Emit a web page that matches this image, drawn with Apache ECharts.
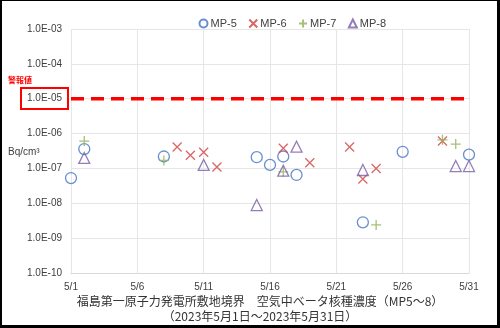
<!DOCTYPE html>
<html><head><meta charset="utf-8">
<script src="https://cdn.jsdelivr.net/npm/echarts@6/dist/echarts.min.js"></script>
<style>html,body{margin:0;padding:0;background:#fff}#c{width:500px;height:328px}</style>
</head><body><div id="c"></div>
<script>
// Day of May (x) and concentration in Bq/cm3 (y)
const mp5Days = [1, 2, 8, 15, 16, 17, 18, 23, 26, 31];
const mp5Vals = [5.3e-8, 3.6e-7, 2.2e-7, 2.1e-7, 1.26e-7, 2.2e-7, 6.5e-8, 2.85e-9, 3.0e-7, 2.5e-7];
const mp6Days = [9, 10, 11, 12, 17, 19, 22, 23, 24, 29];
const mp6Vals = [4.1e-7, 2.4e-7, 2.9e-7, 1.1e-7, 3.8e-7, 1.46e-7, 4.1e-7, 5.0e-8, 1.0e-7, 6.1e-7];
const mp7Days = [2, 8, 17, 24, 29, 30];
const mp7Vals = [6.1e-7, 1.7e-7, 8.0e-8, 2.4e-9, 6.6e-7, 5.0e-7];
const mp8Days = [2, 11, 15, 17, 18, 23, 30, 31];
const mp8Vals = [2.0e-7, 1.26e-7, 8.9e-9, 8.6e-8, 4.2e-7, 9.0e-8, 1.17e-7, 1.17e-7];
const alarmValue = 1.0e-5;
const alarmDays = [1, 31];
const xTickDays = [1, 6, 11, 16, 21, 26, 31];
const yTickLabels = ['1.0E-10','1.0E-09','1.0E-08','1.0E-07','1.0E-06','1.0E-05','1.0E-04','1.0E-03'];
const seriesNames = ['MP-5', 'MP-6', 'MP-7', 'MP-8'];
const titleLine1 = '福島第一原子力発電所敷地境界　空気中ベータ核種濃度（MP5～8）';
const titleLine2 = '（2023年5月1日～2023年5月31日）';
const alarmLabel = '警報値';
const unitLabel = 'Bq/cm³';

const pairs = (d, v) => d.map((x, i) => [x - 1, v[i]]);
const XPATH = 'path://M0,0L10,10M10,0L0,10';
const PPATH = 'path://M5,0L5,10M0,5L10,5';
const fontLatin = 'Liberation Sans, Arial, sans-serif';
const fontJP = '"Noto Sans CJK JP", sans-serif';

const chart = echarts.init(document.getElementById('c'), null, {renderer: 'canvas'});
const mk = (name, data, symbol, color, size) => ({
  name, type: 'scatter', data, symbol, symbolSize: size, z: 3,
  itemStyle: {color: 'none', borderColor: color, borderWidth: 1.3},
  emphasis: {disabled: true}
});
chart.setOption({
  animation: false,
  backgroundColor: '#fff',
  textStyle: {fontFamily: fontLatin},
  grid: {left: 71, right: 31, top: 29, bottom: 55},
  legend: {
    top: 12, left: 192, itemWidth: 8, itemHeight: 8, itemGap: 10,
    textStyle: {fontSize: 11, color: '#404040', fontFamily: fontLatin, padding: [0, 0, 0, -2]},
    data: seriesNames.map(n => ({name: n}))
  },
  xAxis: {
    type: 'value', min: 0, max: 30, interval: 5,
    axisLine: {show: true, lineStyle: {color: '#d9d9d9'}},
    axisTick: {show: false},
    splitLine: {show: true, lineStyle: {color: '#e6e6e6'}},
    axisLabel: {fontSize: 10, color: '#404040', margin: 9,
      formatter: v => xTickDays.includes(v + 1) ? '5/' + (v + 1) : ''}
  },
  yAxis: {
    type: 'log', logBase: 10, min: 1e-10, max: 1e-3,
    axisLine: {show: false},
    axisTick: {show: false},
    splitLine: {show: true, lineStyle: {color: '#e6e6e6'}},
    axisLabel: {fontSize: 10, color: '#404040', margin: 9,
      formatter: v => yTickLabels[Math.round(Math.log10(v)) + 10] || ''}
  },
  series: [
    {
      name: 'alarm', type: 'line', data: alarmDays.map(d => [d - 1, alarmValue]),
      symbol: 'none', silent: true, z: 2,
      lineStyle: {color: '#FF0000', width: 3.5, type: [13, 7]}
    },
    mk(seriesNames[0], pairs(mp5Days, mp5Vals), 'circle', '#4472C4', 11),
    mk(seriesNames[1], pairs(mp6Days, mp6Vals), XPATH, '#D0413E', 9),
    mk(seriesNames[2], pairs(mp7Days, mp7Vals), PPATH, '#8DB255', 10),
    mk(seriesNames[3], pairs(mp8Days, mp8Vals), 'triangle', '#7A5CA8', 11)
  ],
  graphic: [
    {type: 'rect', shape: {x: 0, y: 0, width: 500, height: 1}, style: {fill: '#000'}},
    {type: 'rect', shape: {x: 0, y: 0, width: 2, height: 328}, style: {fill: '#000'}},
    {type: 'rect', shape: {x: 497, y: 0, width: 3, height: 328}, style: {fill: '#000'}},
    {type: 'rect', shape: {x: 0, y: 325, width: 500, height: 3}, style: {fill: '#000'}},
    {type: 'rect', shape: {x: 21, y: 88, width: 47, height: 21}, style: {fill: 'none', stroke: '#FF0000', lineWidth: 2}},
    {type: 'text', x: 8, y: 76, style: {text: alarmLabel, fill: '#FF0000', font: 'bold 8px ' + fontJP}},
    {type: 'text', x: 8, y: 147, style: {text: unitLabel, fill: '#404040', font: '10px ' + fontLatin}},
    {type: 'text', x: 260, y: 301, style: {text: titleLine1, fill: '#333', font: '12px ' + fontJP, align: 'center', verticalAlign: 'middle'}},
    {type: 'text', x: 260, y: 316, style: {text: titleLine2, fill: '#333', font: '12px ' + fontJP, align: 'center', verticalAlign: 'middle'}}
  ]
});
</script></body></html>
